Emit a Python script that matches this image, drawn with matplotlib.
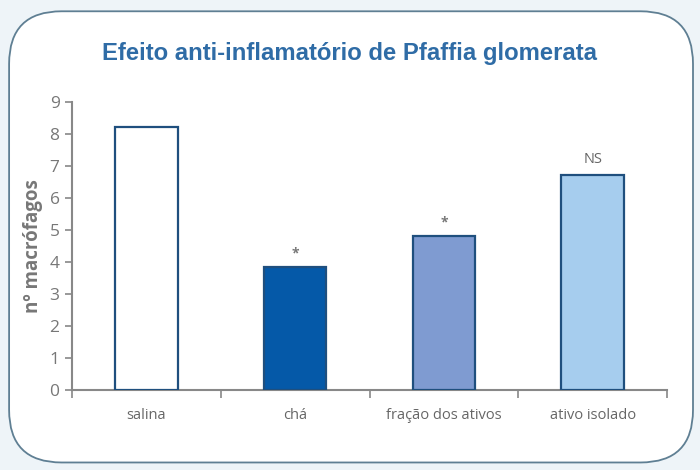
import matplotlib
matplotlib.use('Agg')
import matplotlib.pyplot as plt
from matplotlib.patches import FancyBboxPatch
import numpy as np

# data
categorias = ['salina', 'chá', 'fração dos ativos', 'ativo isolado']
macrofagos = [8.22, 3.84, 4.81, 6.72]
marcas = ['', '*', '*', 'NS']
cores = ['white', '#0559a8', '#7f9bd1', '#a6cdee']

plt.rcParams['font.family'] = ['Open Sans', 'DejaVu Sans']

fig = plt.figure(figsize=(7, 4.7), dpi=100)
fig.patch.set_facecolor('#eef4f8')

# rounded frame
frame = FancyBboxPatch((0.013, 0.016), 0.977, 0.960,
                       boxstyle='round,pad=0,rounding_size=0.075',
                       transform=fig.transFigure, facecolor='white',
                       edgecolor='#5f7f93', linewidth=1.3, zorder=-5,
                       mutation_aspect=700 / 470)
fig.patches.append(frame)

fig.text(0.5, 0.886, 'Efeito anti-inflamatório de Pfaffia glomerata',
         ha='center', va='center', fontsize=17.2, fontweight='bold',
         color='#2f6ca6', family=['Liberation Sans', 'DejaVu Sans'])

ax = fig.add_axes([0.103, 0.170, 0.850, 0.613])
ax.set_zorder(2)
ax.set_facecolor('none')
x = np.arange(len(categorias))
bars = ax.bar(x, macrofagos, width=0.42, color=cores,
              edgecolor='#1f4f7e', linewidth=1.6, zorder=3)

for xi, v, m in zip(x, macrofagos, marcas):
    if m == '*':
        ax.text(xi, v + 0.22, m, ha='center', va='bottom', fontsize=10,
                fontweight='bold', color='#777777')
    elif m:
        ax.text(xi, v + 0.25, m, ha='center', va='bottom', fontsize=10.5, color='#666666')

ax.set_xlim(-0.5, len(categorias) - 0.5)
ax.set_ylim(0, 9)
ax.set_yticks(range(0, 10))
ax.set_xticks(x)
ax.set_xticklabels(categorias)
ax.set_xticks(np.arange(-0.5, len(categorias)), minor=True)
ax.tick_params(axis='x', which='major', length=0, pad=13, labelsize=10.5, labelcolor='#666666')
ax.tick_params(axis='x', which='minor', length=6, width=1.2, color='#888888', direction='out')
ax.tick_params(axis='y', length=5, width=1.2, color='#888888', labelsize=12.5, labelcolor='#777777', pad=4)

for s in ['top', 'right']:
    ax.spines[s].set_visible(False)
for s in ['left', 'bottom']:
    ax.spines[s].set_color('#888888')
    ax.spines[s].set_linewidth(1.5)

ax.set_ylabel('nº macrófagos', fontsize=13.5, fontweight='bold', color='#777777', labelpad=5)

fig.savefig('out.png', dpi=100, facecolor=fig.get_facecolor())
